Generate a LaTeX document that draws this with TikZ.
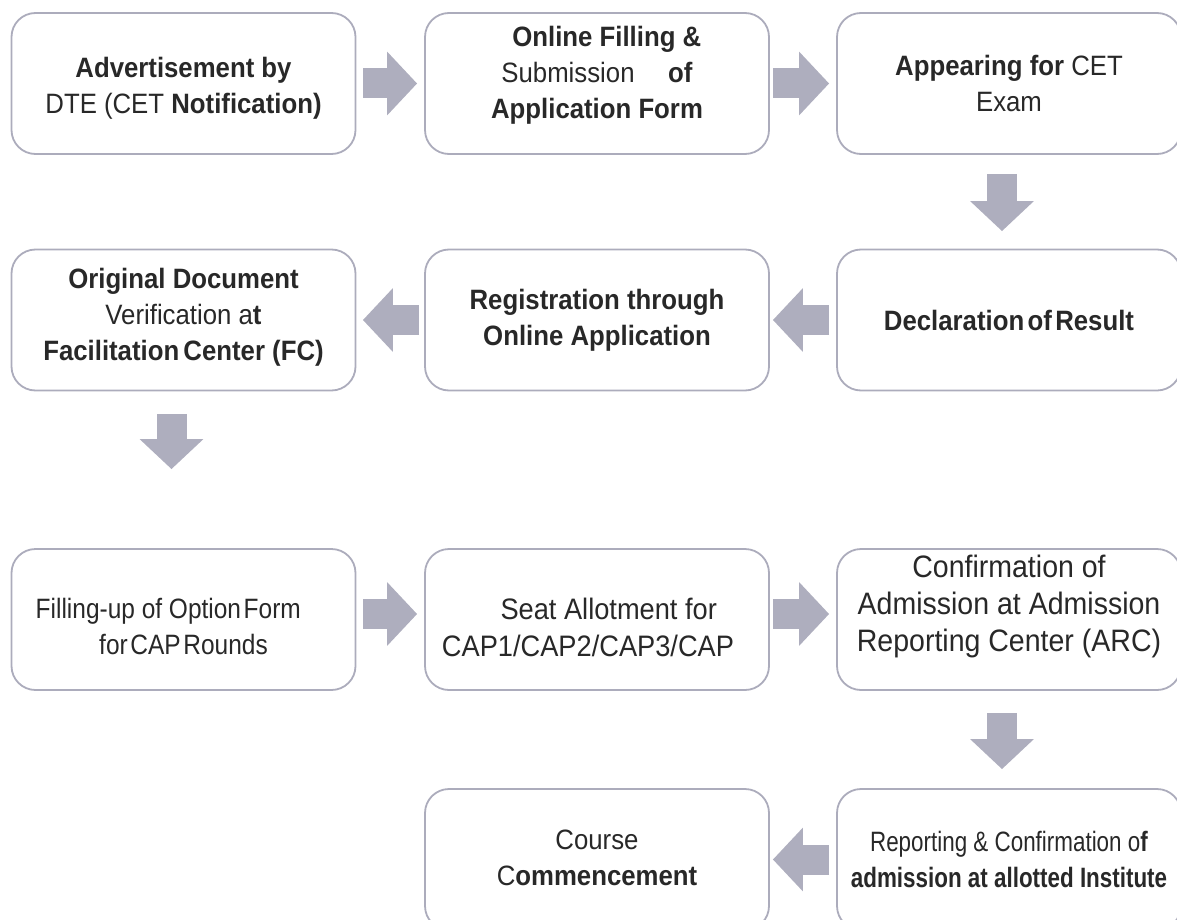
\documentclass[tikz,border=0pt]{standalone}
\usepackage{fontspec}
\setmainfont[FakeStretch=0.92]{Liberation Sans}
\usetikzlibrary{arrows.meta}

\definecolor{boxline}{RGB}{172,172,188}
\definecolor{arrowfill}{RGB}{174,174,190}
\definecolor{textgray}{RGB}{40,40,40}

\tikzset{
    stepbox/.style={draw=boxline, line width=0.9pt, rounded corners=12pt, fill=white,
        minimum width=172pt, minimum height=70.5pt, inner sep=0pt,
        align=center, text=textgray, font=\fontsize{14}{18}\selectfont},
    steptext/.style={align=center, text=textgray, inner sep=0pt, font=\fontsize{14}{18}\selectfont},
    bigtext/.style={font=\fontsize{15.5}{18.5}\selectfont},
    flow/.style={arrowfill, line width=15pt, -{Triangle[width=31pt,length=15pt]}}
}

\begin{document}
\begin{tikzpicture}[x=0.5pt, y=-0.5pt]
                \clip (0,0) rectangle (1177,920);

                % first row
                \node[stepbox] (adv) at (183.5,83.5) {};
                \node[steptext] (advtext) at ([yshift=-2.5pt]adv.center) {\textbf{Advertisement by}\\DTE (CET \textbf{Notification)}};
                \node[stepbox] (online) at (597,83.5) {};
                \node[steptext] (onlinetext) at ([yshift=4pt]online.center) {\hspace{0.7em}\textbf{Online Filling \&}\\Submission\hspace{1.2em}\textbf{of}\\\textbf{Application Form}};
                \node[stepbox] (exam) at (1009,83.5) {\textbf{Appearing for} CET\\Exam};

                % second row
                \node[stepbox] (fc) at (183.5,320) {};
                \node[steptext] (fctext) at ([yshift=1.5pt]fc.center) {\textbf{Original Document}\\Verification a\textbf{t}\\\textbf{Facilitation\hspace{0.15em}Center (FC)}};
                \node[stepbox] (reg) at (597,320) {\textbf{Registration through}\\\textbf{Online Application}};
                \node[stepbox] (result) at (1009,320) {\textbf{Declaration\hspace{0.12em}of\hspace{0.12em}Result}};

                % third row
                \node[stepbox] (option) at (183.5,619.5) {};
                \node[steptext] (optiontext) at ([yshift=-3.5pt]option.center) {\scalebox{0.95}[1]{Filling-up of Option\hspace{0.1em}Form\hspace{16pt}}\\\scalebox{0.95}[1]{for\hspace{0.1em}CAP\hspace{0.1em}Rounds}};
                \node[stepbox] (seat) at (597,619.5) {};
                \node[steptext, font=\fontsize{14.8}{18.5}\selectfont] (seattext) at ([xshift=-4.5pt, yshift=-4pt]seat.center) {\hspace{1.4em}Seat Allotment for\\CAP1/CAP2/CAP3/CAP};
                \node[stepbox] (arc) at (1009,619.5) {};
                \node[steptext, bigtext] (arctext) at ([yshift=6.5pt]arc.center) {Confirmation of\\Admission at Admission\\Reporting Center (ARC)};

                % fourth row
                \node[stepbox] (course) at (597,859.5) {};
                \node[steptext] (coursetext) at ([yshift=1pt]course.center) {Course\\C\textbf{ommencement}};
                \node[stepbox] (report) at (1009,859.5) {\scalebox{0.87}[1]{Reporting \& Confirmation o\textbf{f}}\\\scalebox{0.87}[1]{\textbf{admission at allotted Institute}}};

                \draw[flow, shorten <=3.5pt, shorten >=3.5pt] (adv) -- (online);
                \draw[flow, shorten <=1.5pt, shorten >=3.5pt] (online) -- (exam);
                \draw[flow, shorten <=9.5pt, shorten >=8.75pt] ([xshift=-3.5pt]exam.south) -- ([xshift=-3.5pt]result.north);
                \draw[flow, shorten <=3.5pt, shorten >=1.5pt] (result) -- (reg);
                \draw[flow, shorten <=2.5pt, shorten >=3.25pt] (reg) -- (fc);
                \draw[flow, shorten <=11.25pt, shorten >=39.5pt] ([xshift=-6pt]fc.south) -- ([xshift=-6pt]option.north);
                \draw[flow, shorten <=3.5pt, shorten >=3.5pt] ([yshift=2.75pt]option.east) -- ([yshift=2.75pt]seat.west);
                \draw[flow, shorten <=1.5pt, shorten >=3.5pt] ([yshift=2.75pt]seat.east) -- ([yshift=2.75pt]arc.west);
                \draw[flow, shorten <=11pt, shorten >=9.5pt] ([xshift=-3.5pt]arc.south) -- ([xshift=-3.5pt]report.north);
                \draw[flow, shorten <=3.5pt, shorten >=1.5pt] (report) -- (course);
\end{tikzpicture}
\end{document}
